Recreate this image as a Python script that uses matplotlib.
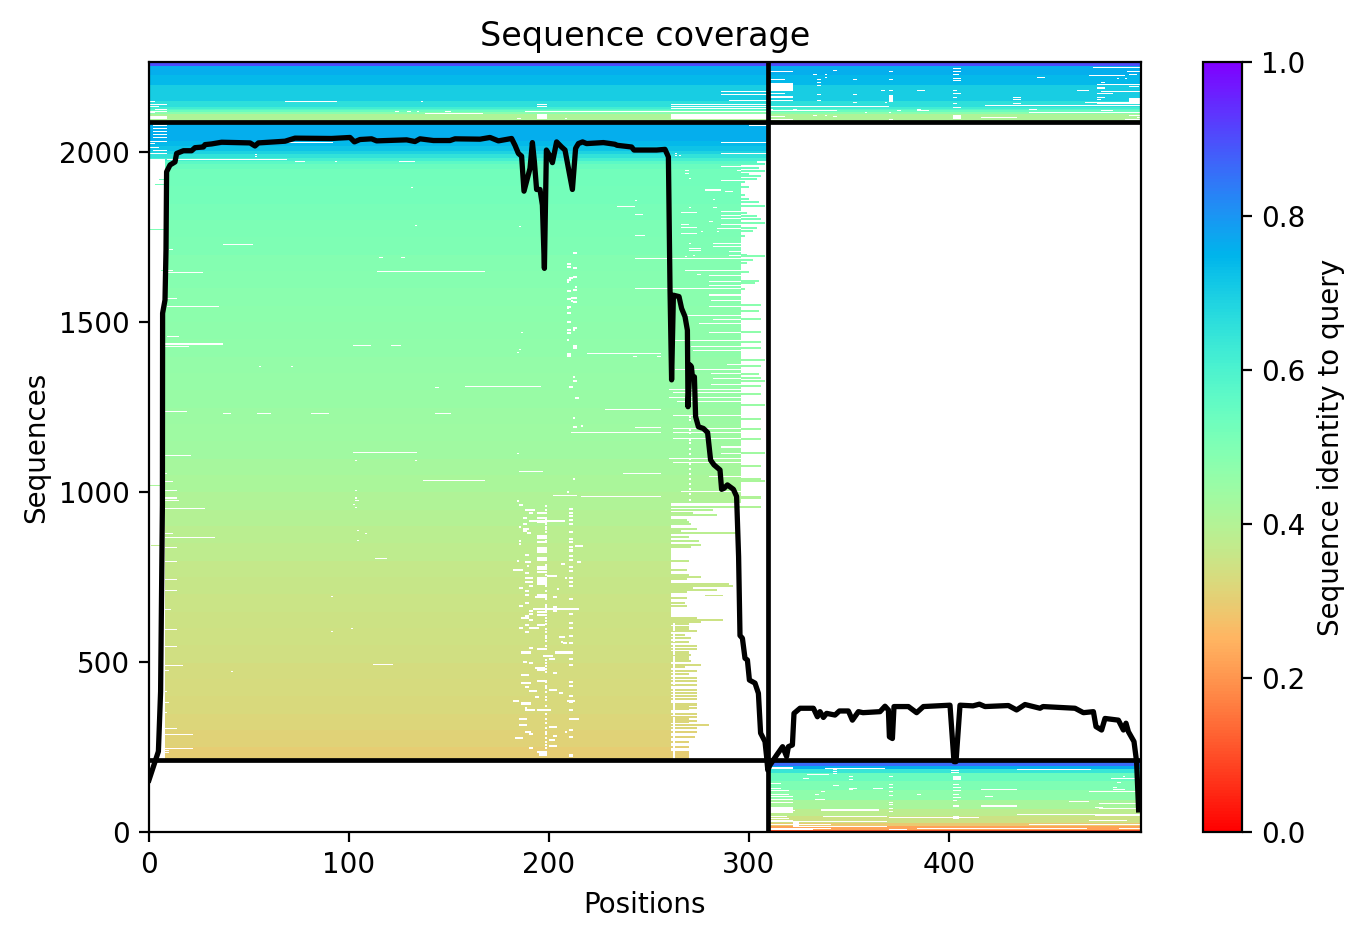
# -*- coding: utf-8 -*-

import matplotlib
matplotlib.use('Agg')
import matplotlib.pyplot as plt
import numpy as np

# query split and axis limits
split_pos = 309.5
split_top = 2088
split_bottom = 212
n_pos = 496
n_seq = 2265

# coverage curve
curve_pos = [0, 4.7, 5.8, 6.7, 6.8, 8, 8.5, 8.8, 10.5, 13, 13.8, 17.2, 21.3, 23, 27.2, 28, 31.3, 36.3, 50.5, 53,
             54.7, 68, 73, 91.3, 100.5, 102.7, 105.5, 111.3, 113.8, 128.8, 133, 135.5, 142.2, 150.5, 153, 165.5,
             170.5, 174.7, 181.3, 183, 184.7, 186.3, 187.5, 190.5, 191.7, 192.7, 193.8, 195.5, 196.7, 197.7,
             198.7, 200.2, 201.7, 203.8, 206.3, 208, 209.7, 211.7, 213.3, 214.7, 216.8, 218.8, 227.2, 233, 234,
             241.3, 242.5, 253.8, 258, 259.7, 260.5, 261.3, 262.2, 265, 266.3, 268, 269.2, 269.5, 270.5, 271.2,
             271.7, 272.7, 273.3, 274.7, 277.2, 279.3, 280.8, 282.5, 285.5, 286.3, 287.5, 289.2, 292.2, 293.8,
             294.8, 295.5, 296.7, 298, 299.2, 300.2, 303, 304.7, 305.8, 308, 308.8, 309.4, 310.5, 313.8, 316.8,
             318.8, 319.7, 321.7, 322.5, 325.5, 332.2, 334.2, 335.5, 337.2, 338.8, 343, 345.2, 349.7, 351.7,
             354.7, 357, 365.5, 368, 369.7, 370.2, 371.7, 372.5, 379.7, 383.8, 387.2, 400.5, 402.5, 403.5, 405.5,
             412, 415.2, 418, 429.7, 433.8, 438, 445.5, 447, 463, 467.2, 472.2, 473.5, 476.3, 478, 484.7, 487.2,
             488.5, 489.7, 492.5, 493.8, 494.8]
curve_seq = [153, 237, 413, 962, 1526, 1565, 1712, 1942, 1962, 1971, 1996, 2004, 2004, 2013, 2015, 2022, 2024, 2029,
             2027, 2018, 2027, 2032, 2041, 2040, 2043, 2030, 2037, 2039, 2033, 2036, 2031, 2039, 2034, 2034, 2039,
             2038, 2043, 2033, 2040, 2020, 1996, 1988, 1885, 1952, 2028, 1971, 1890, 1890, 1844, 1658, 2006, 1991,
             1969, 2030, 2015, 2006, 1952, 1890, 2011, 2025, 2030, 2025, 2028, 2023, 2020, 2015, 2006, 2006, 2008,
             1986, 1599, 1330, 1579, 1575, 1540, 1516, 1476, 1251, 1374, 1369, 1339, 1339, 1222, 1192, 1187, 1175,
             1094, 1080, 1065, 1008, 1011, 1021, 1008, 987, 810, 578, 570, 511, 506, 447, 438, 408, 291, 266, 222,
             182, 197, 226, 251, 222, 251, 256, 349, 364, 364, 339, 354, 337, 349, 344, 356, 356, 329, 354, 351,
             354, 370, 359, 280, 275, 369, 369, 351, 369, 373, 207, 207, 373, 371, 376, 369, 372, 359, 375, 364,
             369, 364, 351, 354, 310, 300, 334, 329, 300, 320, 295, 266, 207, 65]

# identity bands: (upper seq of band, identity)
top_tops = [2265, 2253, 2226, 2197, 2153, 2135, 2129, 2124, 2118, 2112]
top_vals = [0.90, 0.76, 0.74, 0.70, 0.66, 0.62, 0.58, 0.54, 0.48, 0.41]
mid_tops = [2088, 2035, 2020, 2005, 1995, 1985, 1975, 1965, 1950, 1900, 1850, 1800, 1750, 1700, 1650, 1600, 1550,
            1500, 1450, 1400, 1350, 1300, 1250, 1200, 1150, 1100, 1050, 1000, 950, 900, 850, 800, 750, 700, 650,
            600, 550, 500, 450, 400, 350, 300, 250]
mid_vals = [0.76, 0.74, 0.72, 0.69, 0.65, 0.61, 0.57, 0.54, 0.525, 0.52, 0.515, 0.505, 0.50, 0.49, 0.485, 0.48,
            0.475, 0.47, 0.465, 0.46, 0.455, 0.45, 0.445, 0.44, 0.435, 0.425, 0.415, 0.405, 0.395, 0.385, 0.375,
            0.365, 0.36, 0.355, 0.35, 0.345, 0.34, 0.335, 0.33, 0.325, 0.32, 0.31, 0.30]
low_tops = [212, 197, 188, 176, 150, 124, 94, 70, 50, 29, 18, 6]
low_vals = [0.86, 0.76, 0.64, 0.54, 0.50, 0.47, 0.42, 0.38, 0.35, 0.29, 0.22, 0.10]

# white dashes (seq, from pos, to pos)
top_left_cuts = [(2149, 0, 3), (2140, 0, 9), (2133, 0, 5), (2125, 3, 9), (2118, 0, 9), (2115, 0, 3),
                 (2149, 68, 94), (2149, 136, 137), (2119, 123, 125), (2119, 129, 131), (2119, 134, 135),
                 (2119, 148, 151), (2113, 138, 167), (2178, 286, 309), (2170, 286, 309), (2152, 290, 309),
                 (2140, 261, 309), (2134, 261, 309), (2128, 261, 309), (2140, 194, 199), (2134, 194, 199),
                 (2118, 188, 309), (2097, 184, 186), (2097, 208, 209)]
top_right_cuts = [(2237, 310.5, 322), (2240, 342.5, 343.5), (2237, 370.5, 372.5), (2246, 401.5, 405.5),
                  (2237, 402.5, 405.5), (2228, 401.5, 405), (2249, 472.5, 495.5), (2236, 489, 495.5),
                  (2228, 490, 494), (2225, 470.5, 488), (2228, 332.5, 333.5), (2228, 337.5, 338.5),
                  (2219, 337.5, 338.5), (2213, 310.5, 317.5), (2213, 334.5, 335.5), (2213, 351.5, 353.5),
                  (2213, 370.5, 372.5), (2219, 443.5, 447.5), (2216, 402.5, 405.5), (2210, 402.5, 405.5),
                  (2216, 483.5, 484.5), (2216, 487.5, 488.5), (2203, 475.5, 478.5), (2196, 474.5, 495.5),
                  (2187, 473.5, 477.5), (2190, 490.5, 495), (2202, 334.5, 335.5), (2193, 334.5, 335.5),
                  (2181, 365.5, 367.5), (2181, 384.5, 387.5), (2181, 464.5, 469.5), (2181, 401.5, 404.5),
                  (2178, 475.5, 495.5), (2172, 310.5, 317.5), (2172, 402.5, 405.5), (2170, 351.5, 353.5),
                  (2170, 334.5, 335.5), (2172, 473.5, 481.5), (2165, 310.5, 322), (2160, 310.5, 322),
                  (2153, 310.5, 322), (2160, 473.5, 477.5), (2155, 473.5, 475.5), (2160, 432.5, 435.5),
                  (2155, 432.5, 435.5), (2143, 432.5, 435.5), (2151, 334.5, 335.5), (2146, 351.5, 353.5),
                  (2146, 367.5, 368.5), (2160, 401.5, 404.5), (2143, 401.5, 404.5), (2146, 467.5, 495.5),
                  (2142, 473.5, 495.5), (2134, 310.5, 370.5), (2137, 417.5, 495.5), (2125, 310.5, 312.5),
                  (2125, 321.5, 324.5), (2122, 310.5, 344.5), (2125, 383.5, 385.5), (2122, 383.5, 389.5),
                  (2125, 439.5, 443.5), (2122, 475.5, 482.5), (2116, 439.5, 495.5), (2105, 310.5, 317.5),
                  (2108, 332.5, 333.5), (2108, 337.5, 338.5), (2105, 342.5, 343.5), (2102, 416.5, 433.5),
                  (2108, 489.5, 495.5), (2102, 493.5, 495.5), (2096, 310.5, 322), (2096, 370.5, 372.5),
                  (2096, 487.5, 495.5), (2116, 357.5, 358.5), (2116, 369.5, 370.5), (2122, 374.5, 375.5)]
top_blocks = [(2097, 2112, 261, 310), (2097, 2112, 194, 199), (2097, 2108, 0, 9), (2183, 2203, 310.5, 322),
              (2150, 2162, 490.5, 495.5), (2150, 2162, 370.5, 372.5), (2160, 2170, 370.5, 372.5),
              (2099, 2110, 402.5, 405.5), (2183, 2186, 370.5, 372.5), (2131, 2135, 402.5, 405.5)]

mid_cuts = [(2076, 2.5, 9), (2067, 2, 9), (2060, 2, 9), (2050, 2, 9), (2040, 2, 9), (2032, 0, 9), (2005, 2, 9),
            (1996, 0, 9), (2025, 0, 3), (2015, 0, 5), (2078, 300.5, 309), (2029, 286, 309), (1996, 286, 309),
            (1993, 53, 54), (1986, 53, 54), (1978, 9, 69), (1972, 73, 78), (1972, 93, 94), (1972, 125, 133),
            (1893, 131, 132), (1782, 133, 134), (1729, 37, 52), (1715, 9.5, 12), (2030, 68, 92),
            (1996, 263, 264), (1991, 265, 266), (1990, 263, 264), (1945, 267.5, 270.5), (1937, 267.5, 270.5),
            (1920, 269.5, 270.5), (1958, 286, 296), (1945, 293.5, 294.5), (1945, 295, 296), (1914, 286, 296),
            (1887, 278.5, 286.5), (1884, 287.5, 292.5), (1861, 281.5, 282.5), (1858, 243, 244), (1840, 234, 243),
            (1837, 269.5, 270.5), (1837, 282.5, 283.5), (1822, 266.5, 273.5), (1817, 243, 247), (1825, 286, 296),
            (1812, 286, 296), (1805, 286, 296), (1796, 280.5, 282.5), (1787, 286, 296), (1787, 266.5, 270.5),
            (1778, 266.5, 273.5), (1781, 185, 186), (1775, 284, 296), (1766, 275.5, 276.5), (1766, 283.5, 284.5),
            (1752, 243, 248), (1758, 266.5, 273.5), (1731, 282, 296), (1722, 282, 296), (1731, 269.5, 271),
            (1717, 270.5, 276.5), (1711, 270.5, 276.5), (1707, 290, 296), (1697, 290.5, 296), (1687, 243, 296),
            (1692, 267.5, 268.5), (1695, 271.5, 272.5), (1652, 267.5, 296), (1640, 273.5, 275.5),
            (1637, 280.5, 296), (1619, 280.5, 296), (1605, 280.5, 296), (1596, 243, 296), (1581, 280.5, 296),
            (1690, 115, 117), (1690, 126, 128), (1649, 114, 168), (1646, 9.3, 27), (1652, 9.3, 12),
            (1570, 9, 14), (1546, 9, 35), (1455, 9, 15), (1435, 8.3, 37), (1429, 8.3, 20), (1432, 102, 111),
            (1432, 121, 126), (1370, 55, 56), (1370, 71, 72), (1305, 143, 145), (1308, 158, 196),
            (1238, 8, 19), (1232, 37, 41), (1232, 54, 61), (1232, 81, 90), (1232, 143, 151), (1117, 102, 134),
            (1094, 103, 104), (1094, 133, 134), (1108, 8, 21), (1053, 8, 9), (1029, 8, 12), (1032, 137, 168),
            (1002, 8, 14), (1002, 103, 104), (982, 8, 14), (976, 8, 15), (982, 103, 104), (975, 103, 105),
            (952, 8, 28), (955, 103, 104), (964, 102, 103), (876, 7.7, 12), (864, 8, 33), (835, 7.7, 14),
            (805, 113, 119), (796, 7.7, 14), (743, 7.7, 14), (708, 7.7, 14), (691, 91, 92), (655, 7.3, 11),
            (594, 7.3, 14), (599, 101, 102), (588, 91, 92), (544, 7.3, 14), (494, 112, 122), (491, 7.7, 17),
            (476, 7.7, 10), (473, 41, 42), (411, 7, 9), (379, 7, 10), (352, 7, 9), (305, 6.7, 14), (285, 6.7, 22),
            (244, 6.7, 22), (237, 6.7, 10), (232, 6.7, 10), (885, 104, 105), (876, 108, 109), (855, 104, 105),
            (1688, 243, 256), (1596, 243, 256), (1408, 219, 256), (1399, 242, 244), (1399, 253.5, 255.5),
            (1467, 186, 187), (1420, 185, 186), (1411, 184, 185), (1243, 228, 256), (1188, 243, 256),
            (1173, 211, 256), (1114, 184, 185), (1061, 185, 197), (1055, 237, 256), (988, 202, 214),
            (985, 216, 256)]

# cuts that run to the edge of the solid part (seq, from pos)
mid_right_starts = [(1579, 280.5), (1563, 281.3), (1545, 280.5), (1520, 268), (1508, 282), (1494, 274.7),
                    (1467, 280.5), (1445, 262), (1430, 271.3), (1418, 272.2), (1374, 288.8), (1359, 263),
                    (1347, 281.3), (1334, 282.2), (1315, 281.3), (1300, 260.5), (1292, 262), (1279, 260.5),
                    (1266, 264), (1224, 262), (1187, 262), (1175, 262), (1155, 262), (1133, 285.5), (1114, 285.5),
                    (1099, 259.7), (1086, 262), (1045, 279.7), (1001, 266.3)]

# dots of the cluster around position 210
near_212 = [(1702, 212, 214), (1670, 209, 211), (1661, 209, 211), (1658, 212, 214), (1629, 212, 214),
            (1626, 210, 212), (1620, 209, 211), (1614, 209, 210), (1600, 213, 214), (1591, 212, 214),
            (1588, 209, 211), (1567, 209, 211), (1570, 211, 214), (1558, 212, 214), (1561, 211, 212),
            (1543, 209, 211), (1540, 209, 210), (1526, 209, 211), (1499, 209, 211), (1479, 212, 214),
            (1473, 212, 213), (1473, 209, 211), (1464, 209, 211), (1443, 209, 210), (1429, 212, 214),
            (1423, 212, 214), (1405, 209, 211), (1399, 209, 211), (1335, 212, 213), (1323, 212, 214),
            (1305, 210, 212), (1276, 213, 215), (1217, 212, 213), (1188, 212, 214), (1191, 216, 217),
            (1035, 212, 213), (996, 209, 210)]

# dashes of the dotted middle region
mid_dashes = [(972, 184, 185), (962, 184.7, 187), (945, 188, 193), (937, 190, 192), (923, 187, 189), (914, 190, 208),
              (903, 187, 189), (896, 184.7, 185.5), (890, 187, 190), (884, 187, 189), (876, 189, 191), (854, 185, 186),
              (844, 185, 186), (837, 213, 217), (815, 188, 190), (795, 184, 185), (792, 188, 191), (792, 214, 216),
              (787, 206, 208), (781, 189, 190), (770, 182, 187), (759, 188, 190), (752, 199, 204), (744, 188, 192),
              (744, 208, 209), (734, 188, 192), (720, 190, 192), (714, 185, 187), (712, 204, 205), (705, 188, 190),
              (694, 188, 190), (687, 202, 204), (687, 193, 198), (673, 188, 190), (665, 185, 187), (661, 202, 204),
              (655, 192, 215), (649, 202, 204), (649, 190, 192), (641, 190, 192), (635, 188, 190), (629, 186, 190),
              (622, 190, 192), (608, 194, 198), (608, 188, 190), (599, 185, 187), (599, 190, 195), (585, 188, 190),
              (570, 205, 208), (557, 206, 207), (552, 207, 209), (538, 190, 192), (526, 203, 211), (526, 186, 191),
              (516, 197, 202), (508, 200, 203), (499, 187, 189), (496, 190, 192), (482, 193, 198), (467, 202, 204),
              (459, 186, 190), (442, 194, 199), (435, 186, 191), (423, 188, 190), (414, 200, 204), (411, 190, 194),
              (405, 205, 207), (393, 193, 195), (382, 182, 185), (382, 209, 213), (376, 186, 191), (364, 188, 189),
              (358, 188, 193), (358, 195, 201), (332, 185, 189), (332, 212, 215), (312, 185, 189), (306, 200, 204),
              (293, 188, 191), (293, 208, 209), (285, 190, 192), (279, 202, 204), (273, 183, 187), (268, 200, 203),
              (249, 200, 204), (244, 190, 192), (232, 194, 199), (225, 195, 199)]
col_198_seqs = [959, 945, 937, 923, 916, 910, 903, 896, 890, 879, 869, 861, 854, 849, 805, 798, 785, 779, 771, 763,
                753, 746, 739, 732, 727, 720, 707, 694, 687, 681, 668, 661, 653, 645, 636, 629, 619, 609, 596, 587,
                575, 567, 560, 545, 536, 518, 506, 496, 487, 477, 469, 438, 428, 420, 408, 393, 384, 369, 359, 347,
                330, 318, 305, 293, 286, 273, 261, 253, 244, 232, 227]
col_194_seqs = [937, 923, 910, 869, 861, 849, 805, 798, 779, 771, 763, 746, 739, 732, 727, 694, 645, 636, 536, 482,
                476, 442, 358]
col_211_seqs = [949, 937, 927, 916, 903, 879, 859, 849, 834, 825, 810, 800, 779, 766, 746, 732, 722, 683, 641, 614,
                599, 575, 553, 526, 508, 491, 438, 428, 398, 379, 359, 330, 299, 276, 224]
col_270_seqs = [1219, 1210, 1180, 1170, 1150, 1140, 1125, 1110, 1095, 1080, 1065, 1050, 1035, 1020, 1005, 990, 975,
                962]
slot_262_keep = [590, 555, 520, 470, 430, 385, 340, 300]

# rows that carry on past the solid part (seq, last pos)
fingers_upper = [(1975, 308.5), (1968, 304), (1962, 308.5), (1952, 304.7), (1942, 308.5), (1934, 300.5), (1927, 305.5),
                 (1917, 303.5), (1908, 298), (1893, 300.2), (1873, 298), (1861, 300.5), (1852, 304.7), (1839, 308.5),
                 (1819, 299.3), (1810, 304.3), (1800, 306.3), (1790, 308.5), (1775, 303.5), (1766, 302.5), (1751, 298),
                 (1697, 299), (1692, 308.5), (1682, 302.5), (1672, 299), (1646, 300.5), (1617, 304.7), (1611, 303),
                 (1593, 297.5), (1550, 305.5), (1530, 304.7), (1506, 306.3), (1467, 305.5), (1437, 305.5),
                 (1423, 305.5), (1388, 308.5), (1369, 305.5), (1344, 304.7), (1334, 305.5), (1325, 308.5),
                 (1310, 305.5), (1285, 305.5), (1256, 308.5), (1212, 305.5), (1182, 305.5), (1153, 305.5),
                 (1114, 308.5), (1075, 305.5), (1035, 305.5), (1031, 308.5), (982, 306.3)]
fingers_lower = [(955, 305.5), (947, 282.2), (937, 272.2), (932, 283.5), (916, 268.8), (910, 270.5), (903, 271.3),
                 (890, 273.8), (882, 266.3), (876, 293.8), (864, 270.5), (853, 274.7), (841, 275.5), (834, 271.3),
                 (795, 270.5), (770, 269.3), (753, 270.5), (748, 276.3), (741, 269.2), (727, 290.5), (720, 292.2),
                 (715, 272.5), (709, 283.5), (702, 268.8), (685, 269.3), (673, 268.5), (664, 269.3), (629, 274.3),
                 (623, 287.2), (617, 275.5), (611, 270.5), (599, 270.5), (590, 273.8), (576, 268.5), (567, 271.3),
                 (555, 270.5), (545, 273.8), (536, 273.8), (526, 270.5), (519, 271.3), (511, 270.5), (501, 271.3),
                 (491, 275.5), (484, 268.5), (472, 273.8), (464, 270.5), (452, 274.3), (442, 273.8), (431, 273.5),
                 (415, 274.3), (406, 273.5), (398, 273.8), (387, 274.3), (374, 273.8), (364, 273.5), (347, 273.5),
                 (338, 273.8), (325, 273.5), (314, 280.5), (305, 273.8), (291, 273.5), (276, 273), (261, 270.5),
                 (246, 270.5), (232, 270.5), (222, 270.5)]
finger_blocks = [(594, 606, 270.5), (506, 520, 270.5), (362, 376, 270.5), (322, 336, 270.5),
                 (216, 238, 270.5)]
finger_pieces = [(693, 278.5, 287)]
left_fills = [(1918, 5, 8), (1903, 3, 8), (1770, 0.5, 8), (1650, 6, 8), (1017, 0.5, 7), (840, 1, 7), (755, 6, 7)]

low_cuts = [(188, 337.5, 367.5), (183, 342.5, 343.5), (178, 342.5, 343.5), (173, 342.5, 343.5), (184, 433.5, 471),
            (180, 401, 405), (175, 401, 405), (170, 329, 340), (156, 327, 330), (164, 350.5, 352.5),
            (164, 370.5, 372.5), (153, 350.5, 352.5), (156, 481, 493), (163, 487, 488), (143, 310.5, 316),
            (145, 484, 486), (127, 362.5, 367), (123, 416, 433.5), (128, 310.5, 316), (122, 310.5, 320),
            (129, 482, 484), (117, 470.5, 495.5), (109, 383.5, 386.5), (102, 417.5, 422.5), (87, 460, 470),
            (76, 416, 433.5), (110, 310.5, 320), (102, 310.5, 322), (94, 310.5, 322), (86, 310.5, 322),
            (82, 475, 495.5), (74, 473, 477), (70, 475, 495.5), (52, 433.5, 495.5), (45, 310.5, 319), (47, 337, 369),
            (44, 370, 415), (41, 310.5, 320), (34, 310.5, 322), (33, 470, 489), (30, 310.5, 369), (22, 310.5, 341),
            (22, 440, 495.5), (17, 322, 369), (11, 310.5, 341), (11, 384, 469), (11, 485, 495.5), (6, 310.5, 332),
            (8, 370, 379), (138, 370.5, 372.5), (131, 370.5, 372.5), (119, 370.5, 372.5), (106, 370.5, 372.5),
            (86, 370.5, 372.5), (80, 370.5, 372.5), (70, 370.5, 372.5), (60, 370.5, 372.5), (135, 342, 345),
            (128, 350.5, 354), (124, 350.5, 352.5), (118, 336, 338), (110, 333, 335), (94, 333, 338),
            (120, 402, 406), (130, 402, 406), (140, 402, 405), (110, 402, 405), (100, 402, 406), (90, 402, 404.5),
            (76, 402, 405), (45, 402, 405), (41, 402, 405), (10, 402, 405), (123, 482, 488), (65, 321, 323)]
low_blocks = [(186, 192, 310.5, 322), (155, 165, 402.5, 405.5), (57, 75, 310.5, 322), (65, 71, 336, 365),
              (49, 54, 473, 495.5), (15, 30, 322, 325), (0, 3, 325, 373)]


def row(seq):
    return int(seq // 3)


def col(pos):
    return int(round(pos))


def paint(grid, tops, vals, bottom, x0, x1):
    for i, top in enumerate(tops):
        low = tops[i + 1] if i + 1 < len(tops) else bottom
        grid[row(low):row(top), x0:x1] = vals[i]


def cut(grid, seq, x0, x1, rows=1):
    grid[row(seq):row(seq) + rows, col(x0):max(col(x1), col(x0) + 1)] = np.nan


base = np.full((n_seq // 3 + 1, n_pos), np.nan)
paint(base, top_tops, top_vals, split_top, 0, n_pos)
paint(base, mid_tops, mid_vals, split_bottom, 0, 310)
paint(base, low_tops, low_vals, 0, 310, n_pos)
grid = base.copy()

# left and right overhangs of the first chain
grid[row(split_bottom):row(1980), 0:8] = np.nan
grid[row(split_bottom):row(700), 0:7] = np.nan
grid[row(970):row(1975), 296:310] = np.nan
grid[row(split_bottom):row(970), 261:310] = np.nan
for seq, end in fingers_upper + fingers_lower:
    start = 261 if seq < 970 else 296
    r = row(seq)
    grid[r:r + 2, start:col(end)] = base[r:r + 2, start:col(end)]
for a, b, end in finger_blocks:
    grid[row(a):row(b), 261:col(end)] = base[row(a):row(b), 261:col(end)]
for seq, x0, x1 in finger_pieces + left_fills:
    grid[row(seq), col(x0):col(x1)] = base[row(seq), col(x0):col(x1)]

for seq, x0, x1 in top_left_cuts + top_right_cuts + mid_cuts + low_cuts:
    cut(grid, seq, x0, x1)
for seq, x0, x1 in near_212 + mid_dashes:
    cut(grid, seq, x0, x1, rows=2)
for a, b, x0, x1 in top_blocks + low_blocks:
    grid[row(a):row(b), col(x0):col(x1)] = np.nan
for seq, x0 in mid_right_starts:
    cut(grid, seq, x0, 296)
for seq in col_198_seqs:
    cut(grid, seq, 198, 199, rows=2)
for seq in col_194_seqs:
    cut(grid, seq, 194, 198, rows=2)
for seq in col_211_seqs:
    cut(grid, seq, 210.5, 212, rows=2)
for seq in col_270_seqs:
    cut(grid, seq, 269.5, 270.5, rows=2)
grid[row(822):row(838), 194:199] = np.nan
keep = grid[[row(s) for s in slot_262_keep], 262].copy()
grid[row(214):row(615), 262] = np.nan
grid[[row(s) for s in slot_262_keep], 262] = keep

fig = plt.figure(figsize=(6.82, 4.695), dpi=200)
ax = fig.add_axes([149 / 1364, (939 - 832) / 939, 992 / 1364, 770 / 939])
im = ax.imshow(grid, cmap='rainbow_r', vmin=0, vmax=1, origin='lower', aspect='auto',
               interpolation='nearest', extent=(0, n_pos, 0, grid.shape[0] * 3))
ax.plot(curve_pos, curve_seq, color='black', lw=1.9)
ax.plot((split_pos, split_pos), (0, n_seq), color='black', lw=1.7)
ax.plot((0, n_pos), (split_top, split_top), color='black', lw=1.7)
ax.plot((0, n_pos), (split_bottom, split_bottom), color='black', lw=1.7)
ax.set_xlim(0, n_pos)
ax.set_ylim(0, n_seq)
ax.set_xticks([0, 100, 200, 300, 400])
ax.set_yticks([0, 500, 1000, 1500, 2000])
ax.set_title('Sequence coverage', pad=5.6)
ax.set_xlabel('Positions')
ax.set_ylabel('Sequences', labelpad=3.2)

cax = fig.add_axes([1203 / 1364, (939 - 832) / 939, 39 / 1364, 770 / 939])
fig.colorbar(im, cax=cax, label='Sequence identity to query')

fig.savefig('out.png', dpi=200)
